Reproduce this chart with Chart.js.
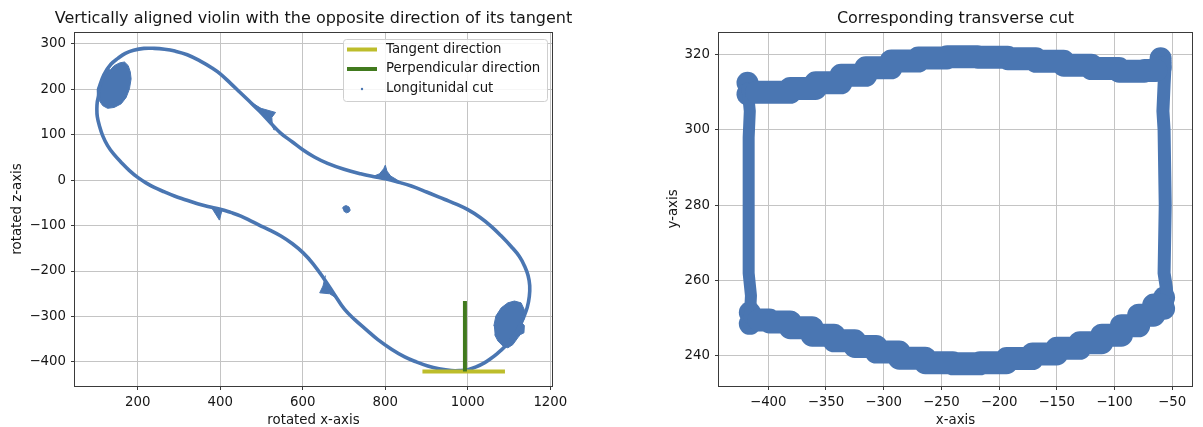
<!DOCTYPE html>
<html>
<head>
<meta charset="utf-8">
<script src="https://cdn.jsdelivr.net/npm/chart.js@4"></script>
<style>
    html, body { margin: 0; padding: 0; background: #ffffff; }
    #wrap { position: relative; width: 1203px; height: 427px; overflow: hidden; }
    .panel { position: absolute; top: 0; height: 427px; }
    #left-panel { left: 0; width: 601px; }
    #right-panel { left: 601px; width: 602px; }
</style>
</head>
<body>
<div id="wrap">
    <div class="panel" id="left-panel"><canvas id="violin-chart" width="601" height="427"></canvas></div>
    <div class="panel" id="right-panel"><canvas id="transverse-chart" width="602" height="427"></canvas></div>
</div>
<script>
// ---- left panel: longitudinal cut (rotated x / z) ----
const violinOutline = [
    [105, 200], [118, 232], [135, 255], [152, 268], [170, 279], [190, 286], [215, 290], [240, 290],
    [265, 288], [290, 284], [320, 276], [354, 261], [380, 247], [400, 234], [425, 213], [447, 194],
    [470, 174], [495, 152], [520, 128], [547, 103], [575, 84], [600, 67], [628, 51], [660, 37],
    [700, 24], [740, 14], [770, 8], [800, 3], [830, -4], [863, -13], [900, -26], [943, -42],
    [975, -54], [1000, -65], [1030, -82], [1056, -101], [1080, -122], [1105, -146], [1125, -168],
    [1138, -190], [1146, -210], [1150, -232], [1149, -256], [1144, -280], [1136, -300], [1125, -322],
    [1110, -345], [1090, -366], [1072, -381], [1055, -393], [1040, -402], [1020, -411], [1000, -417],
    [980, -419], [960, -419], [930, -415], [903, -409], [875, -400], [847, -389], [815, -372],
    [782, -351], [755, -330], [726, -307], [701, -284], [677, -252], [653, -219],
    [625, -184], [601, -160], [575, -140], [547, -123], [520, -110], [499, -101], [475, -90],
    [450, -79], [425, -71], [400, -64], [370, -58], [345, -52], [315, -43], [289, -35], [265, -26],
    [240, -16], [220, -6], [200, 6], [180, 21], [160, 39], [142, 57], [127, 76], [115, 98],
    [107, 120], [102, 140], [101, 157], [102, 172], [105, 186], [105, 200]
];
const blobUpperLeft = [
    [103, 201], [115, 223], [125, 243], [134, 243], [143, 252], [156, 258], [168, 260], [177, 252],
    [182, 238], [184, 223], [180, 201], [172, 182], [160, 168], [143, 160], [127, 158], [115, 164],
    [107, 175], [103, 186]
];
const blobLowerRight = [
    [1063, -321], [1068, -299], [1081, -281], [1097, -270], [1113, -266], [1129, -270], [1137, -285],
    [1136, -307], [1131, -314], [1137, -320], [1136, -336], [1127, -340], [1121, -347], [1109, -362],
    [1097, -369], [1085, -365], [1073, -354], [1065, -340]
];
const cuspNearX530 = [[470, 174], [499, 158], [534, 149], [525, 138], [526, 124], [531, 110], [520, 128], [495, 152]];
const cuspNearX400 = [[346, -52], [378, -59], [398, -88], [404, -67], [425, -71], [400, -64], [370, -58]];
const cuspNearX800 = [[770, 8], [786, 14], [796, 25], [800, 33], [804, 20], [813, 9], [828, 1], [845, -10], [830, -4], [800, 3]];
const cuspNearX650 = [[655, -210], [649, -233], [641, -248], [665, -250], [686, -262], [677, -252], [653, -219]];
const smallSpot = [[696, -62], [699, -58], [705, -56], [712, -59], [715, -66], [712, -70], [706, -72], [699, -68]];
const tangentLine = [[890, -421], [1090, -421]];
const perpendicularLine = [[993, -421], [993, -266]];

const leftXTicks = [200, 400, 600, 800, 1000, 1200];
const leftYTicks = [-400, -300, -200, -100, 0, 100, 200, 300];
const legendLabels = ['Tangent direction', 'Perpendicular direction', 'Longitunidal cut'];

// ---- right panel: transverse cut ----
const topBand = [
    [-410, 310], [-392, 310], [-370, 311], [-348, 312.5], [-326, 314.5], [-305, 316.5], [-282, 318.3],
    [-258, 319.1], [-232, 319.4], [-205, 319.3], [-180, 318.9], [-156, 318.2], [-132, 317.2],
    [-108, 316.3], [-84, 315.6], [-64, 315.8]
];
const bottomBand = [
    [-408, 249.5], [-390, 249], [-372, 247.5], [-352, 245.5], [-334, 244], [-316, 242.5], [-297, 241],
    [-276, 239.4], [-252, 238.2], [-228, 237.9], [-205, 238.2], [-182, 239.3], [-160, 240.5],
    [-140, 242], [-120, 243.5], [-102, 245.5], [-86, 248], [-72, 250.8], [-60, 253.5]
];
const leftSide = [[-416, 250], [-415, 256], [-417, 262], [-417, 280], [-417, 298], [-416, 305], [-418, 311]];
const rightSide = [[-54, 254], [-55, 258], [-57, 262], [-56, 280], [-57, 300], [-58, 305], [-57, 312], [-56, 318]];
const cornerBlobs = [[-418, 312.5], [-418, 309.5], [-416, 251.5], [-416, 248.5], [-60, 319], [-60, 316.5], [-57, 255.5], [-57, 252.5]];

const rightXTicks = [-400, -350, -300, -250, -200, -150, -100, -50];
const rightYTicks = [240, 260, 280, 300, 320];

const BLUE = '#4a76b2';
const OLIVE = '#bdbd2b';
const GREEN = '#417a1e';
const GRID_COLOR = '#c4c4c4';
const AXIS_COLOR = '#3a3a3a';
const TEXT_COLOR = '#161616';
const FONT = "'DejaVu Sans', sans-serif";

Chart.defaults.font.family = FONT;
Chart.defaults.font.size = 13.33;
Chart.defaults.color = TEXT_COLOR;
Chart.defaults.animation = false;

const toXY = (pairs) => pairs.map(([x, y]) => ({ x, y }));

const formatTick = (value) => value < 0 ? '\u2212' + Math.abs(value) : String(value);

const shapeDataset = (pairs) => ({
    data: toXY(pairs),
    borderColor: BLUE,
    backgroundColor: BLUE,
    borderWidth: 1,
    fill: 'shape',
    pointRadius: 0,
});

const makeAxis = ({ min, max, ticks, title, titlePadding, width, height }) => ({
    type: 'linear',
    min: min,
    max: max,
    afterBuildTicks: (scale) => {
        scale.ticks = ticks.map(value => ({ value }));
    },
    afterFit: (scale) => {
        if (width !== undefined) scale.width = width;
        if (height !== undefined) scale.height = height;
    },
    grid: {
        color: GRID_COLOR,
        lineWidth: 1,
        tickColor: AXIS_COLOR,
        tickLength: 4,
    },
    border: { display: false },
    ticks: {
        padding: 5,
        color: TEXT_COLOR,
        maxRotation: 0,
        autoSkip: false,
        callback: (value) => formatTick(value),
    },
    title: {
        display: true,
        text: title,
        color: TEXT_COLOR,
        font: { size: 13.33, lineHeight: 1 },
        padding: titlePadding,
    },
});

// frame, panel title and the boxed legend
const panelDecor = {
    id: 'panelDecor',
    afterDatasetsDraw(chart) {
        const { ctx, chartArea } = chart;
        ctx.save();
        ctx.strokeStyle = AXIS_COLOR;
        ctx.lineWidth = 1;
        const l = Math.round(chartArea.left) - 0.5;
        const t = Math.round(chartArea.top) + 0.5;
        const r = Math.round(chartArea.right) + 0.5;
        const b = Math.round(chartArea.bottom) + 0.5;
        ctx.strokeRect(l, t, r - l, b - t);
        ctx.restore();
    },
    afterDraw(chart, args, opts) {
        const { ctx, chartArea } = chart;
        ctx.save();
        ctx.fillStyle = TEXT_COLOR;
        ctx.font = `16px ${FONT}`;
        ctx.textAlign = 'center';
        ctx.textBaseline = 'middle';
        ctx.fillText(opts.title, (chartArea.left + chartArea.right) / 2, 19);

        if (opts.legend) {
            const box = { left: 343, top: 39, right: 547, bottom: 101 };
            ctx.fillStyle = 'rgba(255,255,255,0.85)';
            ctx.strokeStyle = '#cfcfcf';
            ctx.lineWidth = 1;
            ctx.beginPath();
            ctx.roundRect(box.left + 0.5, box.top + 0.5, box.right - box.left, box.bottom - box.top, 3);
            ctx.fill();
            ctx.stroke();

            const rows = [49.5, 69, 89];
            const swatches = [OLIVE, GREEN];
            ctx.lineWidth = 4;
            swatches.forEach((color, i) => {
                ctx.strokeStyle = color;
                ctx.beginPath();
                ctx.moveTo(347, rows[i]);
                ctx.lineTo(377, rows[i]);
                ctx.stroke();
            });
            ctx.fillStyle = BLUE;
            ctx.beginPath();
            ctx.arc(362, rows[2], 1.2, 0, Math.PI * 2);
            ctx.fill();

            ctx.fillStyle = TEXT_COLOR;
            ctx.font = `13.33px ${FONT}`;
            ctx.textAlign = 'left';
            legendLabels.forEach((label, i) => ctx.fillText(label, 386, rows[i]));
        }
        ctx.restore();
    }
};

const renderViolinChart = () => {
    const ctx = document.querySelector('canvas#violin-chart').getContext('2d');
    return new Chart(ctx, {
        type: 'line',
        data: {
            datasets: [
                {
                    label: legendLabels[1],
                    data: toXY(perpendicularLine),
                    borderColor: GREEN,
                    borderWidth: 4,
                    pointRadius: 0,
                    fill: false,
                },
                {
                    label: legendLabels[0],
                    data: toXY(tangentLine),
                    borderColor: OLIVE,
                    borderWidth: 4,
                    pointRadius: 0,
                    fill: false,
                },
                {
                    label: legendLabels[2],
                    data: toXY(violinOutline),
                    borderColor: BLUE,
                    borderWidth: 3.6,
                    borderJoinStyle: 'round',
                    borderCapStyle: 'round',
                    tension: 0.4,
                    pointRadius: 0,
                    fill: false,
                },
                shapeDataset(blobUpperLeft),
                shapeDataset(blobLowerRight),
                shapeDataset(cuspNearX530),
                shapeDataset(cuspNearX400),
                shapeDataset(cuspNearX800),
                shapeDataset(cuspNearX650),
                shapeDataset(smallSpot),
            ]
        },
        options: {
            responsive: false,
            layout: { padding: { top: 32, right: 49, left: 0, bottom: 0 } },
            scales: {
                x: makeAxis({ min: 48, max: 1204, ticks: leftXTicks, title: 'rotated x-axis', titlePadding: { top: 0, bottom: 0 }, height: 41 }),
                y: makeAxis({ min: -453, max: 326, ticks: leftYTicks, title: 'rotated z-axis', titlePadding: { top: 11, bottom: 0 }, width: 75 }),
            },
            plugins: {
                legend: { display: false },
                tooltip: { enabled: false },
                panelDecor: {
                    title: 'Vertically aligned violin with the opposite direction of its tangent',
                    legend: true,
                },
            },
        },
        plugins: [panelDecor],
    });
};

const bandDataset = (pairs, width) => ({
    data: toXY(pairs),
    borderColor: BLUE,
    borderWidth: width,
    borderJoinStyle: 'round',
    borderCapStyle: 'round',
    stepped: 'middle',
    pointRadius: 0,
    fill: false,
});

const sideDataset = (pairs, width) => ({
    data: toXY(pairs),
    borderColor: BLUE,
    borderWidth: width,
    borderJoinStyle: 'round',
    borderCapStyle: 'round',
    pointRadius: 0,
    fill: false,
});

const renderTransverseChart = () => {
    const ctx = document.querySelector('canvas#transverse-chart').getContext('2d');
    return new Chart(ctx, {
        type: 'line',
        data: {
            datasets: [
                bandDataset(topBand, 23),
                bandDataset(bottomBand, 23),
                sideDataset(leftSide, 12),
                sideDataset(rightSide, 13),
                {
                    data: toXY(cornerBlobs),
                    showLine: false,
                    pointRadius: 11,
                    pointBorderWidth: 0,
                    pointBackgroundColor: BLUE,
                    pointBorderColor: BLUE,
                },
            ]
        },
        options: {
            responsive: false,
            layout: { padding: { top: 32, right: 6, left: 0, bottom: 0 } },
            scales: {
                x: makeAxis({ min: -442.7, max: -32.8, ticks: rightXTicks, title: 'x-axis', titlePadding: { top: 0, bottom: 0 }, height: 41 }),
                y: makeAxis({ min: 232, max: 326, ticks: rightYTicks, title: 'y-axis', titlePadding: { top: 66, bottom: 0 }, width: 118 }),
            },
            plugins: {
                legend: { display: false },
                tooltip: { enabled: false },
                panelDecor: { title: 'Corresponding transverse cut', legend: false },
            },
        },
        plugins: [panelDecor],
    });
};

renderViolinChart();
renderTransverseChart();
</script>
</body>
</html>
